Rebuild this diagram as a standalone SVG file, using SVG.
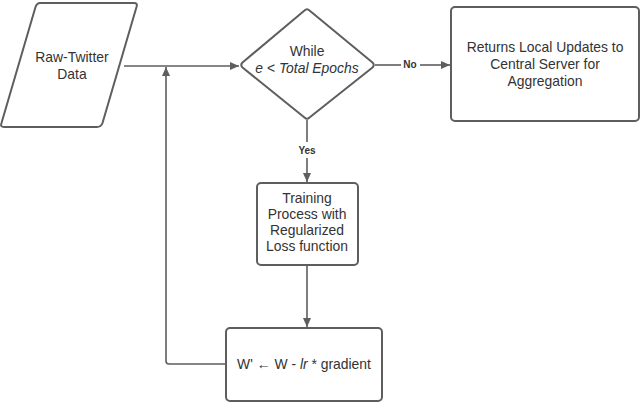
<svg xmlns="http://www.w3.org/2000/svg" width="640" height="404" viewBox="0 0 640 404">
<style>
.s{fill:#fff;stroke:#5e5e5e;stroke-width:2;stroke-linejoin:round}
.c{fill:none;stroke:#5e5e5e;stroke-width:1.6}
.t{font-family:"Liberation Sans",Arial,sans-serif;font-size:13.9px;fill:#333;text-anchor:middle}
.l{font-family:"Liberation Sans",Arial,sans-serif;font-size:10px;font-weight:bold;fill:#333;text-anchor:middle}
</style>
<defs>
<marker id="a" markerWidth="10" markerHeight="10" refX="9" refY="5" orient="auto" markerUnits="userSpaceOnUse">
<path d="M0,1 L9,5 L0,9 Z" fill="#5e5e5e"/>
</marker>
</defs>
<g id="connectors">
<path class="c" d="M124,66 H239" marker-end="url(#a)"/>
<path class="c" d="M226,364 H169 Q166,364 166,361 V67" marker-end="url(#a)"/>
<path class="c" d="M375,65 H401"/>
<path class="c" d="M420,65 H450" marker-end="url(#a)"/>
<path class="c" d="M307,120 V142"/>
<path class="c" d="M307,158 V182" marker-end="url(#a)"/>
<path class="c" d="M307,265 V327" marker-end="url(#a)"/>
<text class="l" x="410" y="68">No</text>
<text class="l" x="307" y="154">Yes</text>
</g>
<g id="n1">
<path class="s" d="M40,3 H134 Q138,3 136.5,7 L102.5,123 Q101,127 97,127 H4 Q0,127 1.5,123 L35.5,7 Q37,3 40,3 Z"/>
<text class="t" x="72" y="62">Raw-Twitter</text>
<text class="t" x="72" y="79">Data</text>
</g>
<g id="n2">
<path class="s" d="M304.5,10.5 Q307,8 309.5,10.5 L372.5,62.5 Q375,65 372.5,67.5 L309.5,117.5 Q307,120 304.5,117.5 L242.5,67.5 Q240,65 242.5,62.5 Z"/>
<text class="t" x="307" y="56">While</text>
<text class="t" x="307" y="73"><tspan font-style="italic">e</tspan> &lt; <tspan font-style="italic">Total Epochs</tspan></text>
</g>
<g id="n3">
<rect class="s" x="451" y="7" width="188" height="114" rx="4"/>
<text class="t" x="545" y="52">Returns Local Updates to</text>
<text class="t" x="545" y="69">Central Server for</text>
<text class="t" x="545" y="86">Aggregation</text>
</g>
<g id="n4">
<rect class="s" x="257" y="183" width="101" height="82" rx="4"/>
<text class="t" x="307" y="203">Training</text>
<text class="t" x="307" y="219">Process with</text>
<text class="t" x="307" y="235">Regularized</text>
<text class="t" x="307" y="251">Loss function</text>
</g>
<g id="n5">
<rect class="s" x="226" y="328" width="156" height="73" rx="4"/>
<text class="t" x="304" y="369">W'  ←  W - <tspan font-style="italic">lr</tspan> * gradient</text>
</g>
</svg>
